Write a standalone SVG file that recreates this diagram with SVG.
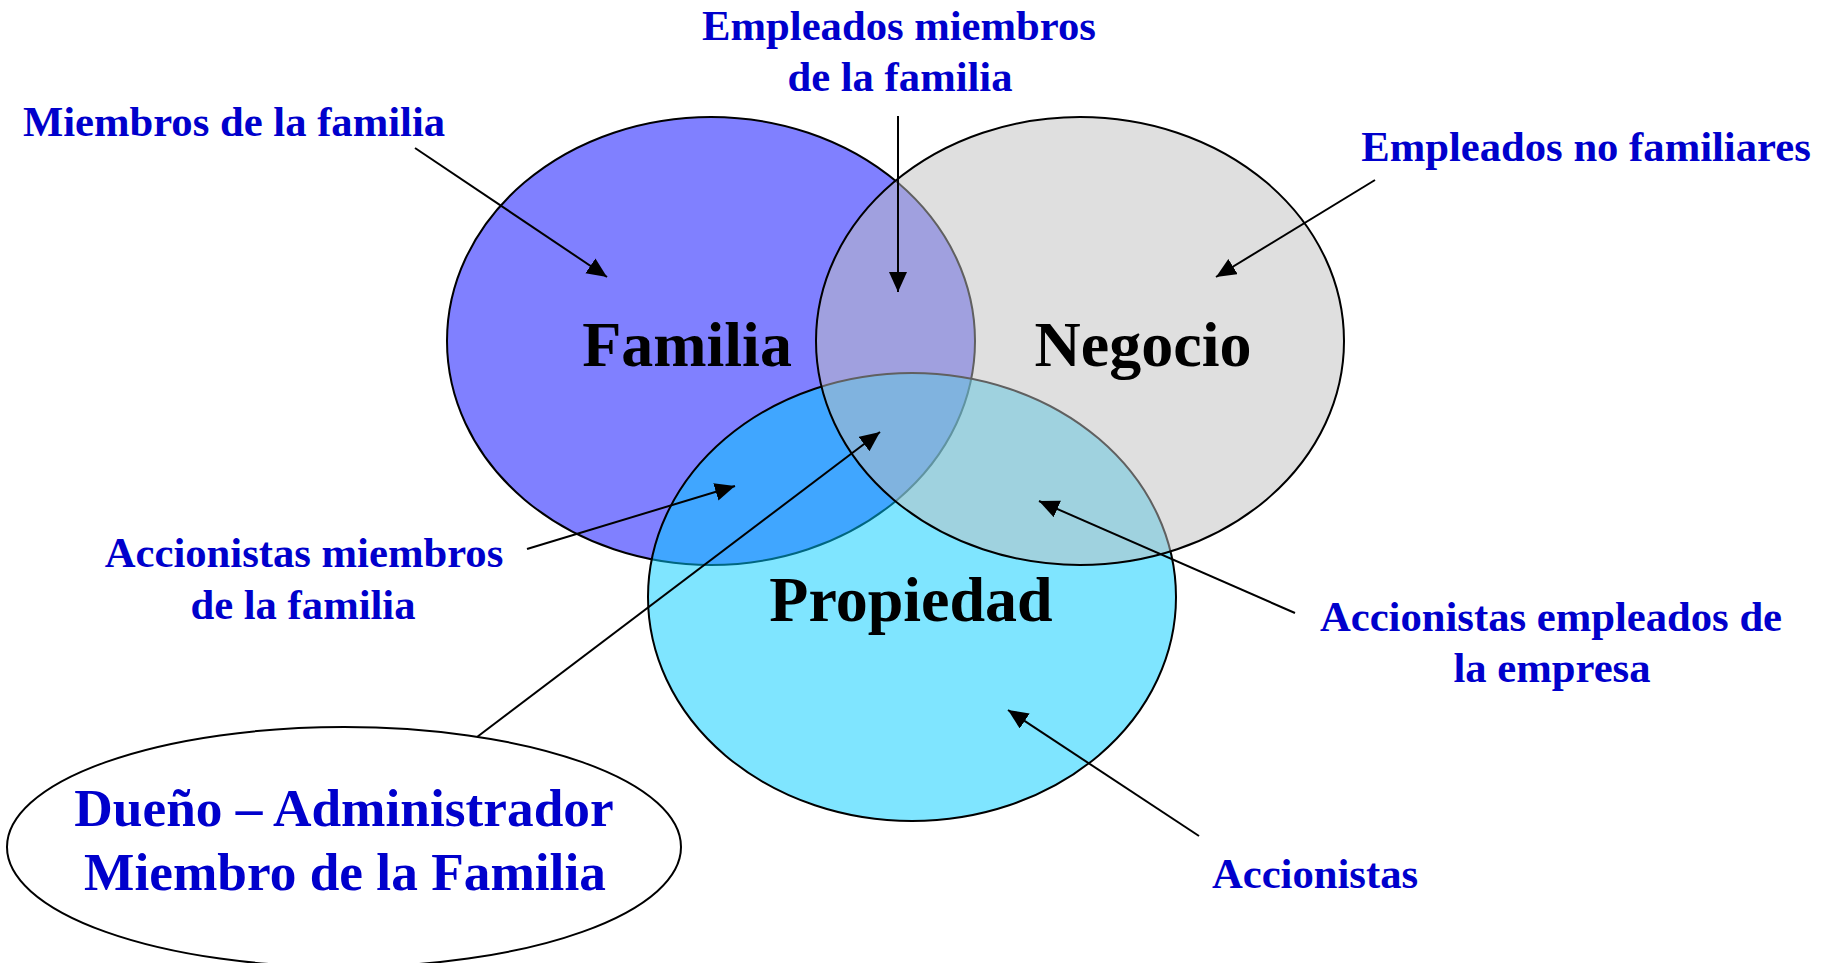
<svg xmlns="http://www.w3.org/2000/svg" width="1823" height="963" viewBox="0 0 1823 963">
<style>
.set{stroke:#000;stroke-width:2}
.big{font-family:"Liberation Serif","Times New Roman",serif;font-weight:bold;font-size:64px;fill:#000;text-anchor:middle}
.lbl{font-family:"Liberation Serif","Times New Roman",serif;font-weight:bold;font-size:42.67px;fill:#0000CC;text-anchor:middle}
.own{font-family:"Liberation Serif","Times New Roman",serif;font-weight:bold;font-size:53.33px;fill:#0000CC;text-anchor:middle}
.conn line{stroke:#000;stroke-width:2;marker-end:url(#ah)}
</style>
<defs>
<marker id="ah" markerUnits="userSpaceOnUse" markerWidth="22" markerHeight="20" refX="20" refY="9" orient="auto">
<path d="M0,0 L20,9 L0,18 Z" fill="#000"/>
</marker>
</defs>
<rect width="1823" height="963" fill="#fff"/>
<g id="familia">
<ellipse class="set" cx="711" cy="341" rx="264" ry="224" fill="#8080FF"/>
</g>
<g id="propiedad">
<ellipse class="set" cx="912" cy="597" rx="264" ry="224" fill="#00CCFF" fill-opacity="0.5"/>
</g>
<g id="negocio">
<ellipse class="set" cx="1080" cy="341" rx="264" ry="224" fill="#C0C0C0" fill-opacity="0.5"/>
</g>
<g id="familia-label"><text class="big" x="687" y="366">Familia</text></g>
<g id="negocio-label"><text class="big" x="1143" y="366">Negocio</text></g>
<g id="propiedad-label"><text class="big" x="911" y="621">Propiedad</text></g>
<g id="dueno">
<ellipse cx="344" cy="847" rx="337" ry="120" fill="#fff" stroke="#000" stroke-width="2"/>
<text class="own" x="344" y="826">Dueño – Administrador</text>
<text class="own" x="345" y="890">Miembro de la Familia</text>
</g>
<g id="miembros-familia"><text class="lbl" x="234" y="136">Miembros de la familia</text></g>
<g id="empleados-miembros">
<text class="lbl" x="899" y="40">Empleados miembros</text>
<text class="lbl" x="900" y="91">de la familia</text>
</g>
<g id="empleados-no-familiares"><text class="lbl" x="1586" y="161">Empleados no familiares</text></g>
<g id="accionistas-miembros">
<text class="lbl" x="304" y="567">Accionistas miembros</text>
<text class="lbl" x="303" y="619">de la familia</text>
</g>
<g id="accionistas-empleados">
<text class="lbl" x="1551" y="631">Accionistas empleados de</text>
<text class="lbl" x="1552" y="682">la empresa</text>
</g>
<g id="accionistas"><text class="lbl" x="1315" y="888">Accionistas</text></g>
<g id="connectors" class="conn">
<line x1="415" y1="148" x2="607" y2="277"/>
<line x1="898" y1="116" x2="898" y2="292"/>
<line x1="1375" y1="180" x2="1216" y2="277"/>
<line x1="527" y1="549" x2="735" y2="486"/>
<line x1="477" y1="737" x2="880" y2="432"/>
<line x1="1295" y1="613" x2="1039" y2="501"/>
<line x1="1199" y1="836" x2="1008" y2="710"/>
</g>
</svg>
